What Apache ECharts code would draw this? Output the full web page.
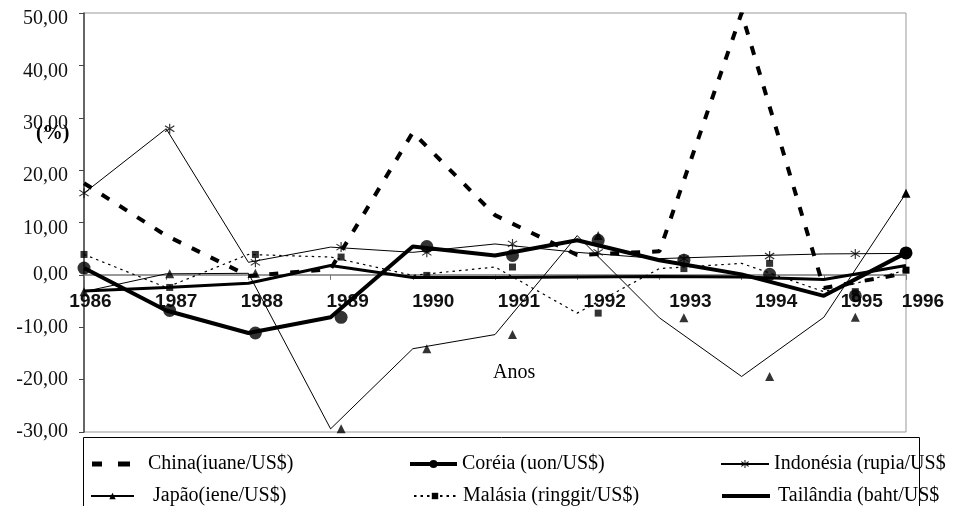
<!DOCTYPE html>
<html><head><meta charset="utf-8">
<script src="https://cdn.jsdelivr.net/npm/echarts@6/dist/echarts.min.js"></script>
<style>html,body{margin:0;padding:0;background:#fff}#c{width:964px;height:506px}</style>
</head><body><div id="c"></div>
<script>
const years = ['1986','1987','1988','1989','1990','1991','1992','1993','1994','1995','1996'];
const china     = [17.5, 7.5, -0.2, 1.1, 27.2, 11.4, 3.8, 4.5, 50.0, -2.5, 0.3];
const coreia    = [1.3, -6.8, -11.1, -8.1, 5.4, 3.7, 6.6, 2.8, 0.1, -4.0, 4.2];
const indonesia = [15.6, 27.9, 2.4, 5.3, 4.3, 5.9, 4.3, 3.1, 3.6, 4.0, 4.1];
const japao     = [-3.2, 0.2, 0.3, -29.4, -14.1, -11.4, 7.5, -8.2, -19.4, -8.1, 15.6];
const malasia   = [3.9, -2.4, 3.9, 3.4, -0.1, 1.5, -7.3, 1.2, 2.2, -3.2, 0.9];
const tailandia = [-3.1, -2.4, -1.6, 1.8, -0.5, -0.5, -0.4, -0.3, -0.4, -0.9, 1.8];
const names = ['China(iuane/US$)', 'Coréia (uon/US$)', 'Indonésia (rupia/US$', 'Japão(iene/US$)', 'Malásia (ringgit/US$)', 'Tailândia (baht/US$'];
const yMin = -30, yMax = 50, yStep = 10;

const SERIF = 'Liberation Serif';
const SANS = 'Liberation Sans';
const STAR = 'path://M4.5,0L5.5,0L5.5,10L4.5,10Z M1.3,1.6L9.3,7.6L8.7,8.4L0.7,2.4Z M1.3,8.4L0.7,7.6L8.7,1.6L9.3,2.4Z';

// plot frame (pixels): left 84, right edge 906, top 13, bottom 432; zero line at y = 13 + 50/80*419
const PL = 84, PT = 13, PR = 964 - 906, PB = 506 - 432;
const ZERO_BOTTOM = 506 - (PT + (yMax / (yMax - yMin)) * (506 - PB - PT));
const MARK_R = 23; // marker axis right offset (offset marker positions)

function lineSeries(name, data, lineStyle, symbol, size) {
  const last = data.length - 1;
  return {
    name, type: 'line', xAxisIndex: 0, yAxisIndex: 0,
    symbol: symbol || 'none', symbolSize: size || 4, showSymbol: !!symbol,
    itemStyle: { color: '#000' },
    lineStyle: Object.assign({ color: '#000' }, lineStyle),
    data: data.map((v, i) => (symbol && i === last) ? v : { value: v, symbol: 'none' }),
    z: 2
  };
}
function markerSeries(name, data, symbol, size) {
  return {
    name: name + '_m', type: 'scatter', xAxisIndex: 1, yAxisIndex: 1,
    symbol, symbolSize: size, itemStyle: { color: '#000' }, silent: true, z: 3,
    data: years.slice(0, data.length - 1).map((y, i) => [y, data[i]])
  };
}
function legendAt(name, left, top, w, h, gap, icon, lineW) {
  const l = {
    data: [name], left, top, itemWidth: w, itemHeight: h, padding: 0,
    selectedMode: false,
    textStyle: { fontFamily: SERIF, fontSize: 20, color: '#000', lineHeight: 22, padding: [0, 0, 0, gap] }
  };
  if (icon) { l.icon = icon; l.itemStyle = { color: '#000' }; }
  if (lineW) { l.lineStyle = { width: lineW, color: '#000' }; }
  return l;
}
const fmt = v => v.toFixed(2).replace('.', ',');
const labelStyle = { interval: 0, margin: 17, fontFamily: SANS, fontWeight: 'bold', fontSize: 19, color: '#111',
  alignMinLabel: 'center', alignMaxLabel: 'center', showMinLabel: true, showMaxLabel: true, hideOverlap: false };

const chart = echarts.init(document.getElementById('c'), null, { renderer: 'canvas' });
chart.setOption({
  animation: false,
  backgroundColor: '#fff',
  title: [
    { text: '(%)', left: 36, top: 124, padding: 0, textStyle: { fontFamily: SERIF, fontWeight: 'bold', fontSize: 20, color: '#000' } },
    { text: 'Anos', left: 493, top: 363, padding: 0, textStyle: { fontFamily: SERIF, fontWeight: 'normal', fontSize: 20, color: '#000' } }
  ],
  graphic: [{
    type: 'rect', z: 0, silent: true,
    shape: { x: 83.5, y: 437.5, width: 836, height: 100 },
    style: { fill: '#fff', stroke: '#000', lineWidth: 1 }
  }],
  legend: [
    legendAt(names[0], 92, 453, 38, 5, 13, 'path://M0,0L10,0L10,5L0,5Z M26,0L38,0L38,5L26,5Z'),
    legendAt(names[1], 408, 453, 47, 10, 0, null, 4),
    legendAt(names[2], 720, 453, 48, 10, 0),
    legendAt(names[3], 90, 485, 43, 8, 14),
    legendAt(names[4], 413, 485, 42, 8, 2),
    legendAt(names[5], 722, 485, 48, 4, 3, 'rect')
  ],
  grid: [
    { left: PL, top: PT, right: PR, bottom: PB, show: true, borderColor: '#999', borderWidth: 1, containLabel: false, outerBoundsMode: 'none' },
    { left: PL, top: PT, right: MARK_R, bottom: PB, show: false, containLabel: false, outerBoundsMode: 'none' },
    { left: PL, top: PT, right: MARK_R, bottom: ZERO_BOTTOM, show: false, containLabel: false, outerBoundsMode: 'none' },
    { left: PL, top: PT, right: PR, bottom: ZERO_BOTTOM, show: false, containLabel: false, outerBoundsMode: 'none' }
  ],
  xAxis: [
    { type: 'category', gridIndex: 0, data: years, boundaryGap: false, show: false },
    { type: 'category', gridIndex: 1, data: years, boundaryGap: false, show: false },
    {
      type: 'category', gridIndex: 2, data: years, boundaryGap: false, position: 'bottom',
      axisLine: { show: false }, axisTick: { show: false }, splitLine: { show: false },
      axisLabel: Object.assign({}, labelStyle, { padding: [0, 0, 0, 13], formatter: (v, i) => i === years.length - 1 ? '' : v })
    },
    {
      type: 'category', gridIndex: 3, data: years, boundaryGap: false, position: 'bottom',
      axisLine: { show: true, onZero: false, lineStyle: { color: '#999', width: 2 } },
      axisTick: { show: true, length: 5, lineStyle: { color: '#777' } },
      splitLine: { show: false },
      axisLabel: Object.assign({}, labelStyle, { padding: [0, 0, 0, 34], formatter: (v, i) => i === years.length - 1 ? v : '' })
    }
  ],
  yAxis: [
    {
      type: 'value', gridIndex: 0, min: yMin, max: yMax, interval: yStep,
      axisLine: { show: true, lineStyle: { color: '#444', width: 1.5 } },
      axisTick: { show: true, length: 5, lineStyle: { color: '#444' } },
      splitLine: { show: false },
      axisLabel: { margin: 16, fontFamily: SERIF, fontSize: 20, color: '#111',
        formatter: v => v > 0 ? '{p|' + fmt(v) + '}' : fmt(v),
        rich: { p: { fontFamily: SERIF, fontSize: 20, color: '#111', padding: [12, 0, 0, 0] } } }
    },
    { type: 'value', gridIndex: 1, min: yMin, max: yMax, interval: yStep, show: false },
    { type: 'value', gridIndex: 2, min: 0, max: yMax, show: false },
    { type: 'value', gridIndex: 3, min: 0, max: yMax, show: false }
  ],
  series: [
    lineSeries(names[5], tailandia, { width: 3 }),
    lineSeries(names[4], malasia, { width: 1.2, type: [2.5, 4] }, 'rect', 7),
    lineSeries(names[3], japao, { width: 1 }, 'triangle', 9),
    lineSeries(names[2], indonesia, { width: 1 }, STAR, 10),
    lineSeries(names[0], china, { width: 4, type: [9, 12] }),
    lineSeries(names[1], coreia, { width: 4 }, 'circle', 13),
    markerSeries(names[4], malasia, 'rect', 7),
    markerSeries(names[3], japao, 'triangle', 9),
    markerSeries(names[2], indonesia, STAR, 10),
    markerSeries(names[1], coreia, 'circle', 13)
  ]
});
</script></body></html>
